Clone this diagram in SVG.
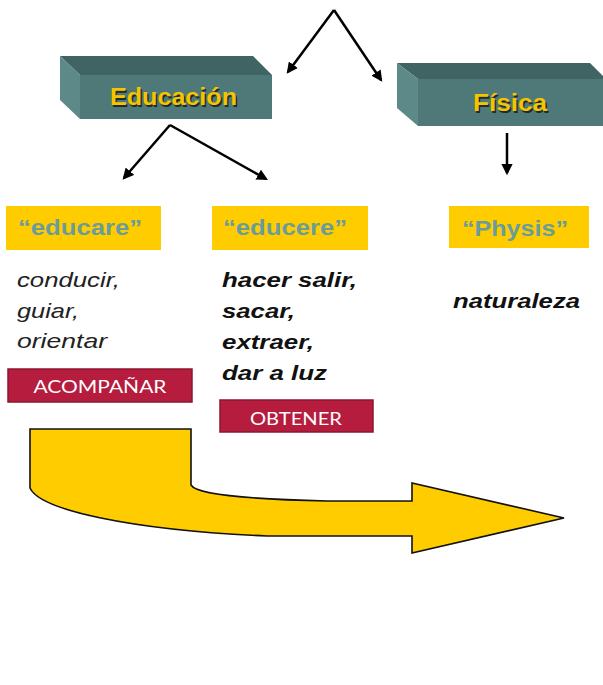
<svg xmlns="http://www.w3.org/2000/svg" width="603" height="685" viewBox="0 0 603 685">
<defs>
<style>
.top{fill:#3f6463}
.front{fill:#4f7978}
.side{fill:#5d8a88}
.title{font-family:"Liberation Sans",Arial,sans-serif;font-weight:bold;font-size:23px;fill:#f5c400}
.shadow{font-family:"Liberation Sans",Arial,sans-serif;font-weight:bold;font-size:23px;fill:#1e2b2a}
.ylab{fill:#ffcc00}
.yt{font-family:"Liberation Sans",Arial,sans-serif;font-weight:bold;font-size:22px;fill:#6a9c9b}
.it{font-family:"Liberation Sans",Arial,sans-serif;font-style:italic;font-size:21px;fill:#222}
.bi{font-family:"Liberation Sans",Arial,sans-serif;font-style:italic;font-weight:bold;font-size:21px;fill:#111}
.red{fill:#b61c3e;stroke:#8e1530;stroke-width:1.5}
.rt{font-family:"Lato","Liberation Sans",sans-serif;font-size:17px;fill:#fff}
.conn{stroke:#000;stroke-width:2.5;fill:none}
</style>
<marker id="ah" viewBox="0 0 10 10" refX="8" refY="5" markerWidth="4.5" markerHeight="4.5" orient="auto" markerUnits="strokeWidth">
<path d="M0,0 L10,5 L0,10 Z" fill="#000"/>
</marker>
</defs>
<rect width="603" height="685" fill="#fff"/>

<g id="connectors">
<path class="conn" d="M334,10 L288,72" marker-end="url(#ah)"/>
<path class="conn" d="M334,10 L381,80" marker-end="url(#ah)"/>
<path class="conn" d="M170,125 L124,178" marker-end="url(#ah)"/>
<path class="conn" d="M170,125 L266,179" marker-end="url(#ah)"/>
<path class="conn" d="M507,133 L507,173" marker-end="url(#ah)"/>
</g>

<g id="educacion">
<polygon class="top" points="60,56 253,56 272,75 80,75"/>
<polygon class="side" points="60,56 80,75 80,119 60,100"/>
<rect class="front" x="80" y="75" width="192" height="44"/>
<text class="shadow" x="111.5" y="106.5" textLength="127" lengthAdjust="spacingAndGlyphs">Educación</text>
<text class="title" x="110" y="105" textLength="127" lengthAdjust="spacingAndGlyphs">Educación</text>
</g>

<g id="fisica">
<polygon class="top" points="397,63 590,63 606,79 418,79"/>
<polygon class="side" points="397,63 418,79 418,126 397,108"/>
<rect class="front" x="418" y="79" width="190" height="47"/>
<text class="shadow" x="474.5" y="112.5" textLength="74" lengthAdjust="spacingAndGlyphs">Física</text>
<text class="title" x="473" y="111" textLength="74" lengthAdjust="spacingAndGlyphs">Física</text>
</g>

<g id="educare">
<rect class="ylab" x="6" y="206" width="155" height="44"/>
<text class="yt" x="18" y="235" textLength="124" lengthAdjust="spacingAndGlyphs">“educare”</text>
</g>

<g id="educere">
<rect class="ylab" x="212" y="206" width="156" height="44"/>
<text class="yt" x="223" y="235" textLength="124" lengthAdjust="spacingAndGlyphs">“educere”</text>
</g>

<g id="physis">
<rect class="ylab" x="449" y="206" width="140" height="42"/>
<text class="yt" x="462" y="236" textLength="106" lengthAdjust="spacingAndGlyphs">“Physis”</text>
</g>

<g id="educare-text">
<text class="it" x="17" y="287" textLength="103" lengthAdjust="spacingAndGlyphs">conducir,</text>
<text class="it" x="17" y="318" textLength="62" lengthAdjust="spacingAndGlyphs">guiar,</text>
<text class="it" x="17" y="348" textLength="90" lengthAdjust="spacingAndGlyphs">orientar</text>
</g>

<g id="educere-text">
<text class="bi" x="222" y="287" textLength="135" lengthAdjust="spacingAndGlyphs">hacer salir,</text>
<text class="bi" x="222" y="318" textLength="73" lengthAdjust="spacingAndGlyphs">sacar,</text>
<text class="bi" x="222" y="349" textLength="92" lengthAdjust="spacingAndGlyphs">extraer,</text>
<text class="bi" x="222" y="380" textLength="105" lengthAdjust="spacingAndGlyphs">dar a luz</text>
</g>

<g id="physis-text">
<text class="bi" x="453" y="308" textLength="127" lengthAdjust="spacingAndGlyphs">naturaleza</text>
</g>

<g id="acompanar">
<rect class="red" x="8" y="369" width="184" height="33"/>
<text class="rt" x="100" y="393" text-anchor="middle" textLength="133" lengthAdjust="spacingAndGlyphs">ACOMPAÑAR</text>
</g>

<g id="obtener">
<rect class="red" x="220" y="400" width="153" height="32"/>
<text class="rt" x="296" y="425" text-anchor="middle" textLength="92" lengthAdjust="spacingAndGlyphs">OBTENER</text>
</g>

<g id="big-arrow">
<path d="M30,429 H191 V485 C196,494 240,499 327,501 H412 V483 L564,518 L412,553 V536 H267 C130,530 40,510 30,488 Z" fill="#ffcc00" stroke="#111" stroke-width="1.6" stroke-linejoin="miter"/>
</g>
</svg>
